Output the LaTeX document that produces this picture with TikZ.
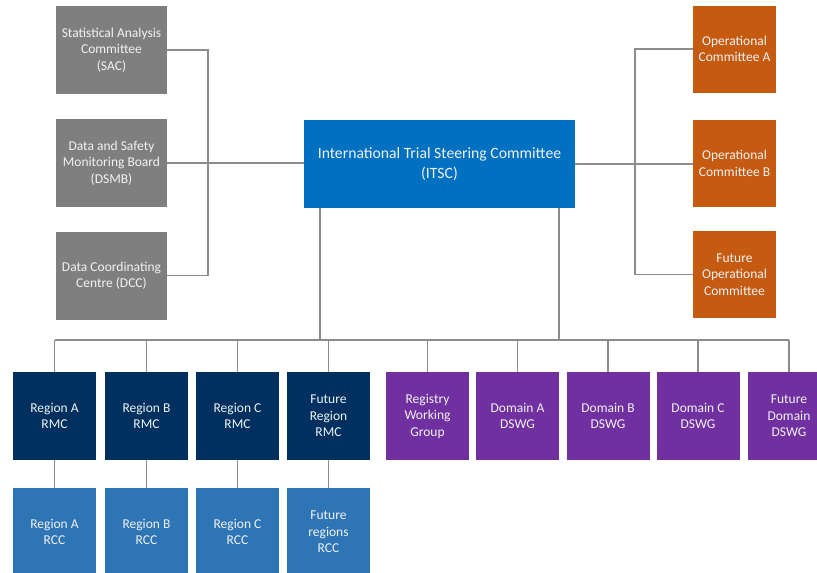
\documentclass[tikz,border=0pt]{standalone}
\usepackage{fontspec}
\setmainfont{Carlito}
\definecolor{cgray}{HTML}{7F7F7F}
\definecolor{citsc}{HTML}{0070C0}
\definecolor{corange}{HTML}{C55A11}
\definecolor{cnavy}{HTML}{00305F}
\definecolor{crcc}{HTML}{2E75B6}
\definecolor{cpurple}{HTML}{7030A0}
\definecolor{cline}{HTML}{8C8C8C}
\definecolor{ctext}{HTML}{F2F2F2}
\begin{document}
\begin{tikzpicture}[x=1pt,y=-1pt,
  box/.style={rectangle, draw=none, minimum width=83pt, minimum height=88pt, inner sep=1pt,
    align=center, text=ctext, font=\fontsize{13.5}{16.5}\selectfont},
  graybox/.style={box, fill=cgray, minimum width=111pt},
  orbox/.style={box, fill=corange, minimum height=87pt},
  navybox/.style={box, fill=cnavy},
  rccbox/.style={box, fill=crcc},
  purbox/.style={box, fill=cpurple},
  itscbox/.style={box, fill=citsc, minimum width=271pt, font=\fontsize{15.7}{20}\selectfont},
  conn/.style={draw=cline, line width=1.2pt}]
\useasboundingbox (0,0) rectangle (817,573);
% left committees
\node[graybox] (sac) at (111.5,50) {Statistical Analysis\\Committee\\(SAC)};
\node[graybox] (dsmb) at (111.5,163) {Data and Safety\\Monitoring Board\\(DSMB)};
\node[graybox] (dcc) at (111.5,275.5) {Data Coordinating\\Centre (DCC)};
% central
\node[itscbox] (itsc) at (439.5,164) {International Trial Steering Committee\\(ITSC)};
% right committees
\node[orbox] (opa) at (734.5,49) {Operational\\Committee A};
\node[orbox] (opb) at (734.5,163.5) {Operational\\Committee B};
\node[orbox] (opf) at (734.5,274.5) {Future\\Operational\\Committee};
% RMC row
\node[navybox] (rma) at (54.5,416) {Region A\\RMC};
\node[navybox] (rmb) at (146.5,416) {Region B\\RMC};
\node[navybox] (rmc) at (237.5,416) {Region C\\RMC};
\node[navybox] (rmf) at (328.5,416) {Future\\Region\\RMC};
% purple row
\node[purbox] (reg) at (427.5,416) {Registry\\Working\\Group};
\node[purbox] (dsa) at (517.5,416) {Domain A\\DSWG};
\node[purbox] (dsb) at (608,416) {Domain B\\DSWG};
\node[purbox] (dsc) at (698,416) {Domain C\\DSWG};
\node[purbox] (dsf) at (789,416) {Future\\Domain\\DSWG};
% RCC row
\node[rccbox] (rca) at (54.5,532) {Region A\\RCC};
\node[rccbox] (rcb) at (146.5,532) {Region B\\RCC};
\node[rccbox] (rcc) at (237.5,532) {Region C\\RCC};
\node[rccbox] (rcf) at (328.5,532) {Future\\regions\\RCC};
% left bracket
\coordinate (lb) at (208,0);
\draw[conn] (sac.east) -- (sac.east -| lb) -- (dcc.east -| lb) -- (dcc.east);
\draw[conn] (dsmb.east) -- (dsmb.east -| itsc.west);
% right bracket
\coordinate (rb) at (635,0);
\draw[conn] (opa.west) -- (opa.west -| rb) -- (opf.west -| rb) -- (opf.west);
\draw[conn] (itsc.east) -- (itsc.east -| opb.west);
% bus
\coordinate (b1) at (320,340);
\coordinate (b2) at (559,340);
\draw[conn] (itsc.south -| b1) -- (b1);
\draw[conn] (itsc.south -| b2) -- (b2);
\draw[conn] (rma.north |- b1) -- (dsf.north |- b1);
\foreach \n in {rma,rmb,rmc,rmf,reg,dsa,dsb,dsc,dsf}
  \draw[conn] (\n.north) -- (\n.north |- b1);
% RMC to RCC
\draw[conn] (rma.south) -- (rca.north);
\draw[conn] (rmb.south) -- (rcb.north);
\draw[conn] (rmc.south) -- (rcc.north);
\draw[conn] (rmf.south) -- (rcf.north);
\end{tikzpicture}
\end{document}
